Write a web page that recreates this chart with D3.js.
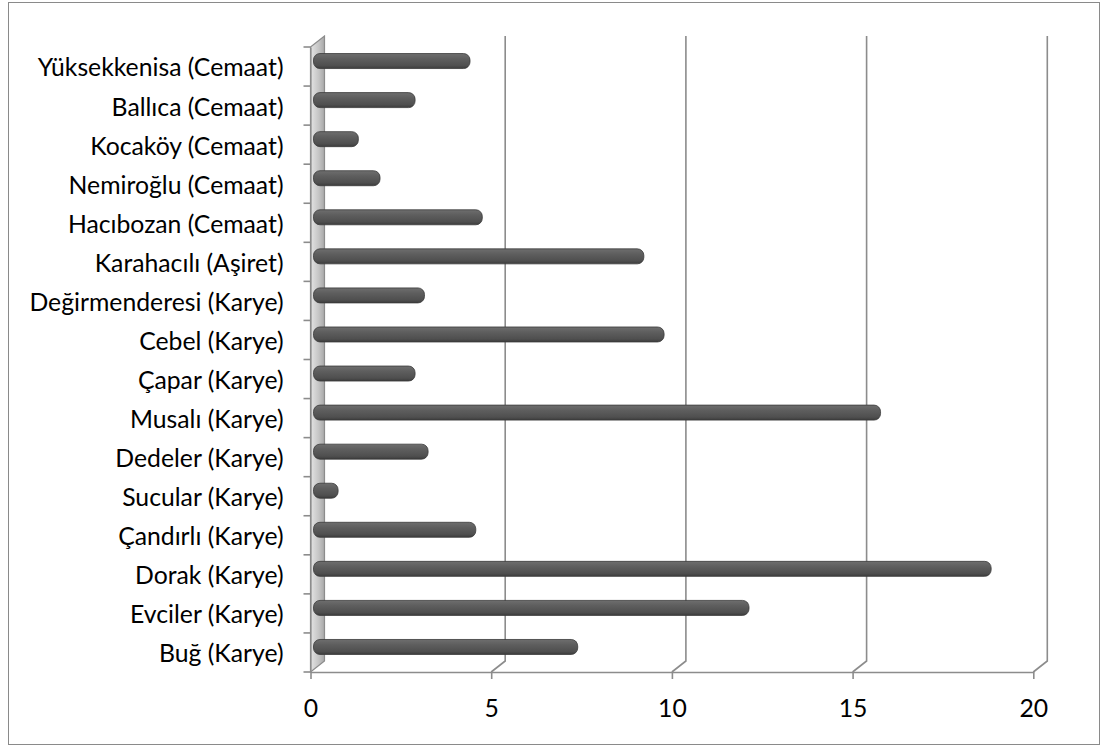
<!DOCTYPE html>
<html>
<head>
<meta charset="utf-8">
<script src="https://cdn.jsdelivr.net/npm/d3@7"></script>
<style>
  body { margin: 0; background: #fff; }
  svg { display: block; font-family: Lato, "Open Sans", sans-serif; }
</style>
</head>
<body>
<svg id="chart" width="1103" height="747"></svg>
<script>
// categories, top to bottom as shown
var categories = [
  "Yüksekkenisa (Cemaat)", "Ballıca (Cemaat)", "Kocaköy (Cemaat)", "Nemiroğlu (Cemaat)",
  "Hacıbozan (Cemaat)", "Karahacılı (Aşiret)", "Değirmenderesi (Karye)", "Cebel (Karye)",
  "Çapar (Karye)", "Musalı (Karye)", "Dedeler (Karye)", "Sucular (Karye)",
  "Çandırlı (Karye)", "Dorak (Karye)", "Evciler (Karye)", "Buğ (Karye)"
];
var values = [4.22, 2.70, 1.13, 1.73, 4.56, 9.03, 2.96, 9.59, 2.70, 15.58, 3.06, 0.57, 4.38, 18.64, 11.94, 7.20];
var xTicks = [0, 5, 10, 15, 20];

var svg = d3.select("#chart");

// outer frame
svg.append("rect").attr("x", 8.5).attr("y", 2.5).attr("width", 1091).attr("height", 742)
  .attr("fill", "none").attr("stroke", "#8a8a8a").attr("stroke-width", 1);

var top0 = 47, bottom0 = 672;
var dx = 14, dy = -11; // depth offset of the back wall

var x = d3.scaleLinear().domain([0, 20]).range([310.5, 1033.3]);
var y = d3.scaleBand().domain(categories).range([top0, bottom0]);

// pick a font size so the longest label is about as wide as in the picture
var probe = svg.append("text").attr("font-size", 24).text(categories[0]);
var fs = 24 * 246 / probe.node().getComputedTextLength();
probe.remove();

var defs = svg.append("defs");
var wg = defs.append("linearGradient").attr("id", "wall").attr("x1", 0).attr("x2", 1).attr("y1", 0).attr("y2", 0);
wg.append("stop").attr("offset", "0%").attr("stop-color", "#e4e4e4");
wg.append("stop").attr("offset", "60%").attr("stop-color", "#c4c4c4");
wg.append("stop").attr("offset", "100%").attr("stop-color", "#a8a8a8");

var bg = defs.append("linearGradient").attr("id", "bar").attr("x1", 0).attr("x2", 0).attr("y1", 0).attr("y2", 1);
bg.append("stop").attr("offset", "0%").attr("stop-color", "#6e6e6e");
bg.append("stop").attr("offset", "35%").attr("stop-color", "#5e5e5e");
bg.append("stop").attr("offset", "80%").attr("stop-color", "#4f4f4f");
bg.append("stop").attr("offset", "100%").attr("stop-color", "#3c3c3c");

// back wall gridlines + floor diagonals
var grid = svg.append("g");
grid.selectAll("path").data(xTicks.slice(1)).join("path")
  .attr("d", function(d) {
    return "M" + x(d) + "," + bottom0 + "L" + (x(d) + dx) + "," + (bottom0 + dy) + "L" + (x(d) + dx) + "," + (top0 + dy);
  })
  .attr("fill", "none").attr("stroke", "#8c8c8c").attr("stroke-width", 1.6);

// left side wall
svg.append("path")
  .attr("d", "M" + x(0) + "," + top0 + "L" + (x(0) + dx) + "," + (top0 + dy) +
             "L" + (x(0) + dx) + "," + (bottom0 + dy) + "L" + x(0) + "," + bottom0 + "Z")
  .attr("fill", "url(#wall)").attr("stroke", "#8c8c8c").attr("stroke-width", 1.2);

// floor front + x ticks
var xAxis = svg.append("g").attr("transform", "translate(0," + bottom0 + ")")
  .call(d3.axisBottom(x).tickValues(xTicks).tickSize(7).tickSizeOuter(0).tickPadding(20));
xAxis.select(".domain").attr("stroke", "#8c8c8c").attr("stroke-width", 1.6);
xAxis.selectAll(".tick line").attr("stroke", "#8c8c8c").attr("stroke-width", 1.6);
xAxis.selectAll("text").attr("font-size", fs).attr("fill", "#000").attr("font-family", "Lato, sans-serif");

// category axis
var yAxis = svg.append("g").attr("transform", "translate(" + x(0) + ",0)")
  .call(d3.axisLeft(y).tickSize(0).tickPadding(27));
yAxis.select(".domain").attr("stroke", "#8c8c8c").attr("stroke-width", 1.2);
yAxis.selectAll("text").attr("font-size", fs).attr("fill", "#000").attr("font-family", "Lato, sans-serif")
  .attr("dy", "0.4em");

// category tick marks at band edges
var edges = categories.map(function(c) { return y(c); }).concat([bottom0]);
svg.append("g").selectAll("line").data(edges).join("line")
  .attr("x1", x(0) - 7).attr("x2", x(0)).attr("y1", function(d) { return d; }).attr("y2", function(d) { return d; })
  .attr("stroke", "#8c8c8c").attr("stroke-width", 1.6);

// bars (cylinders at mid depth)
var bh = 15;
svg.append("g").selectAll("rect").data(values).join("rect")
  .attr("x", x(0) + dx / 2 - 4)
  .attr("y", function(d, i) { return y(categories[i]) + y.bandwidth() / 2 + dy / 2 - bh / 2; })
  .attr("width", function(d) { return x(d) - x(0) + 4; })
  .attr("height", bh)
  .attr("rx", 6.5)
  .attr("fill", "url(#bar)")
  .attr("stroke", "#3a3a3a").attr("stroke-width", 0.8);
</script>
</body>
</html>
